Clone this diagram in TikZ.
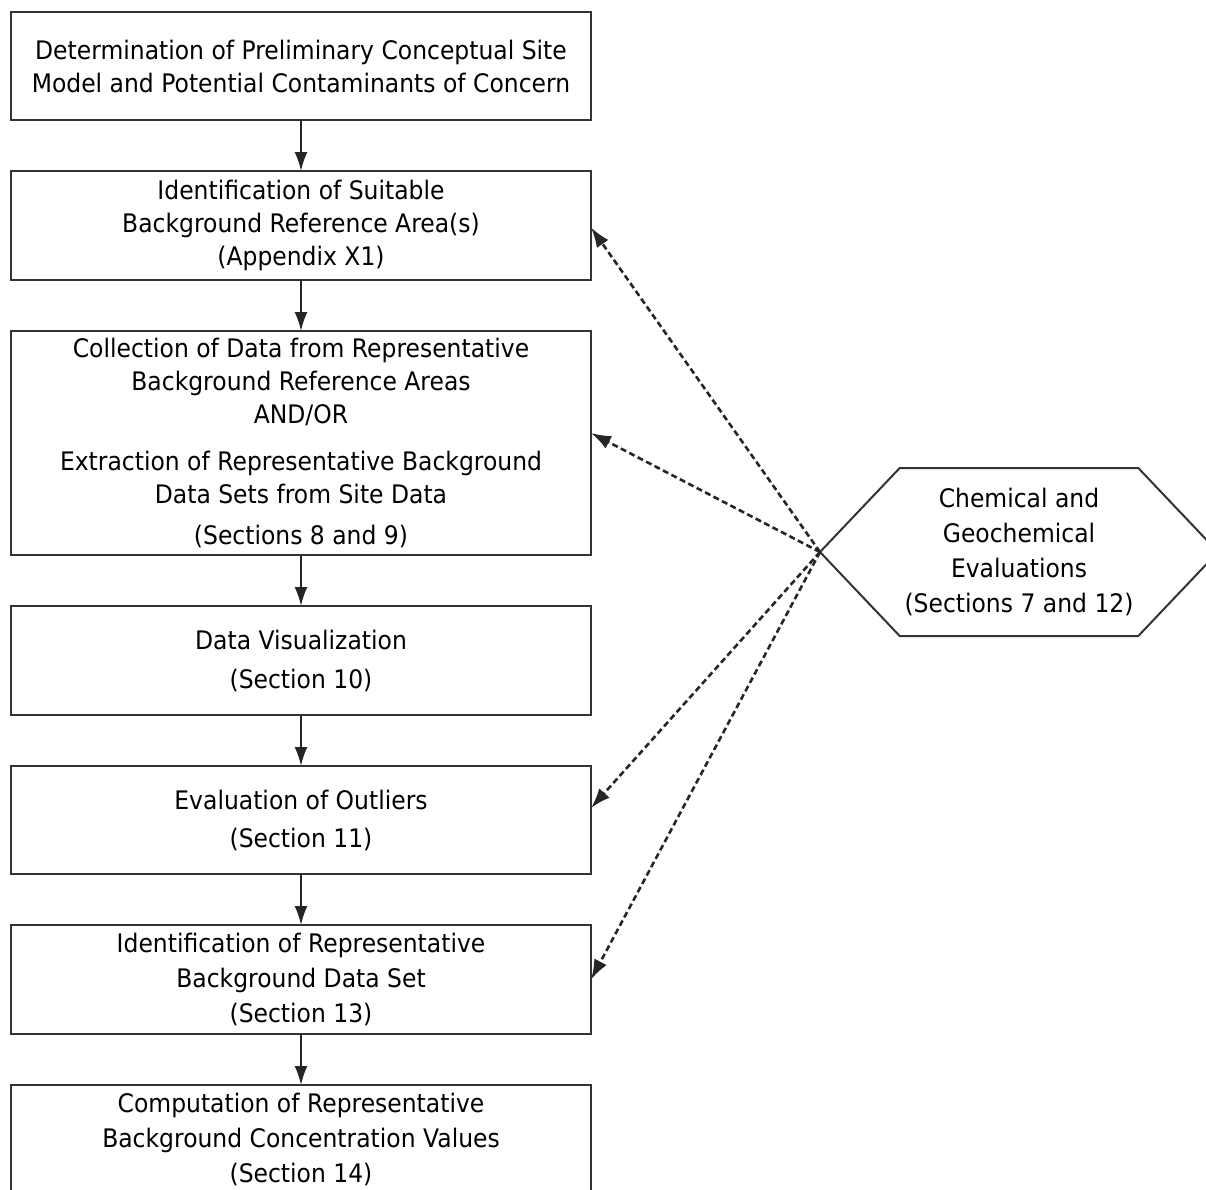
\documentclass[tikz,border=0pt]{standalone}
\usepackage{fontspec}
\setmainfont{DejaVu Sans}[FakeStretch=0.92]
\usepackage{tikz}
\usetikzlibrary{arrows.meta,positioning,shapes.symbols}

\begin{document}
\begin{tikzpicture}[
    x=1pt, y=-1pt,
    font=\fontsize{25.5}{33}\selectfont,
    node distance=51pt,
    stage/.style={draw=black!80, line width=2pt, outer sep=0pt, align=center, minimum width=580pt, minimum height=108pt, inner sep=2pt},
    chem/.style={draw=black!80, line width=2pt, outer sep=0pt, align=center, shape=signal, signal to=west and east, signal pointer angle=93, minimum width=398pt, minimum height=168pt, inner sep=0pt, font=\fontsize{25.5}{35}\selectfont},
    arrow/.style={-{Latex[length=19pt, width=13pt]}, line width=2pt, black!85},
    link/.style={-{Latex[length=20pt, width=14pt]}, line width=2.6pt, black!85, dash pattern=on 6pt off 3.5pt}
]
\useasboundingbox (0,0) rectangle (1206,1189);
\clip (0,0) rectangle (1206,1189);

\node[stage] (csm) at (301,66) {Determination of Preliminary Conceptual Site\\Model and Potential Contaminants of Concern};
\node[stage, below=of csm, minimum height=109pt] (refarea) {Identification of Suitable\\Background Reference Area(s)\\(Appendix X1)};
\node[stage, below=of refarea, minimum height=224pt] (collect) {Collection of Data from Representative\\Background Reference Areas\\AND/OR\\[14pt]Extraction of Representative Background\\Data Sets from Site Data\\[8pt](Sections 8 and 9)};
\node[stage, below=of collect, minimum height=109pt] (visual) {Data Visualization\\[6pt](Section 10)};
\node[stage, below=of visual] (outlier) {Evaluation of Outliers\\[5pt](Section 11)};
\node[stage, below=of outlier, minimum height=109pt, font=\fontsize{25.5}{35}\selectfont] (dataset) {Identification of Representative\\Background Data Set\\(Section 13)};
\node[stage, below=of dataset, font=\fontsize{25.5}{35}\selectfont] (compute) {Computation of Representative\\Background Concentration Values\\(Section 14)};

\node[chem] (geochem) at (1019,552) {Chemical and\\Geochemical\\Evaluations\\(Sections 7 and 12)};

\draw[arrow] (csm) -- (refarea);
\draw[arrow] (refarea) -- (collect);
\draw[arrow] (collect) -- (visual);
\draw[arrow] (visual) -- (outlier);
\draw[arrow] (outlier) -- (dataset);
\draw[arrow] (dataset) -- (compute);

\draw[link] (geochem.west) -- ([yshift=-2pt]refarea.east);
\draw[link] (geochem.west) -- ([yshift=10pt]collect.east);
\draw[link] (geochem.west) -- ([yshift=12pt]outlier.east);
\draw[link] (geochem.west) -- (dataset.east);
\end{tikzpicture}
\end{document}
